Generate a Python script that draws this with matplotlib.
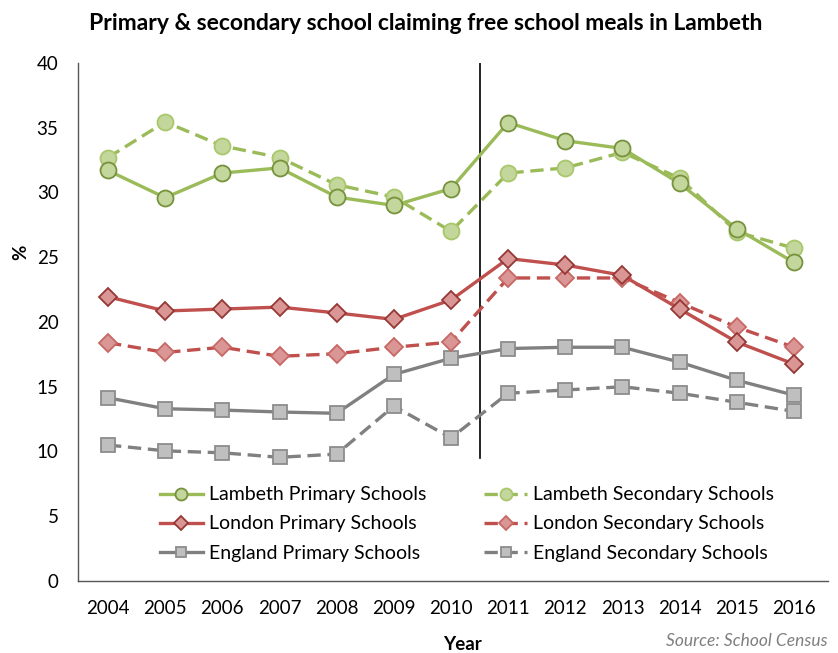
import matplotlib
matplotlib.use("Agg")
import matplotlib.pyplot as plt

plt.rcParams['font.family'] = ['Lato', 'DejaVu Sans']

years = [2004, 2005, 2006, 2007, 2008, 2009, 2010, 2011, 2012, 2013, 2014, 2015, 2016]

lambeth_primary = [31.7, 29.6, 31.5, 31.9, 29.65, 29.0, 30.3, 35.4, 34.0, 33.4, 30.7, 27.2, 24.6]
lambeth_secondary = [32.7, 35.45, 33.6, 32.7, 30.6, 29.65, 27.0, 31.5, 31.9, 33.1, 31.1, 26.95, 25.7]
london_primary = [21.95, 20.85, 21.0, 21.15, 20.7, 20.2, 21.7, 24.9, 24.4, 23.6, 21.0, 18.45, 16.75]
london_secondary = [18.4, 17.65, 18.05, 17.35, 17.55, 18.05, 18.45, 23.4, 23.4, 23.4, 21.5, 19.6, 18.05]
england_primary = [14.15, 13.3, 13.2, 13.05, 12.95, 15.95, 17.2, 17.95, 18.05, 18.05, 16.9, 15.5, 14.35]
england_secondary = [10.5, 10.05, 9.9, 9.55, 9.8, 13.5, 11.05, 14.5, 14.75, 15.0, 14.5, 13.8, 13.1]

policy_break_year = 2010.5
policy_line_bottom = 9.5

series = [
    ("Lambeth Primary Schools", lambeth_primary, '#9BBB59', '#C3D69B', '#76923C', 'o', 11.5, '-'),
    ("Lambeth Secondary Schools", lambeth_secondary, '#9BBB59', '#C3D69B', '#A9C76B', 'o', 11.5, '--'),
    ("London Primary Schools", london_primary, '#C0504D', '#D99694', '#953735', 'D', 9.0, '-'),
    ("London Secondary Schools", london_secondary, '#C0504D', '#D99694', '#C86865', 'D', 9.0, '--'),
    ("England Primary Schools", england_primary, '#808080', '#BFBFBF', '#8C8C8C', 's', 10.5, '-'),
    ("England Secondary Schools", england_secondary, '#808080', '#BFBFBF', '#8C8C8C', 's', 10.5, '--'),
]

fig = plt.figure(figsize=(8.38, 6.53), dpi=100)
ax = fig.add_axes([78 / 838, 1 - 581 / 653, (828 - 78) / 838, (581 - 63) / 653])

handles = {}
for i in [5, 4, 3, 2, 1, 0]:
    name, vals, lc, fc, ec, mk, ms, ls = series[i]
    kw = dict(dashes=(4, 2)) if ls == '--' else {}
    h, = ax.plot(years, vals, color=lc, linewidth=2.4, linestyle=ls, marker=mk,
                 markersize=ms, markerfacecolor=fc, markeredgecolor=ec,
                 markeredgewidth=1.3, label=name, **kw)
    handles[i] = h

ax.plot([policy_break_year, policy_break_year], [policy_line_bottom, 40],
        color='black', linewidth=1.2, zorder=1)

ax.set_xlim(2003.475, 2016.595)
ax.set_ylim(0, 40)
ax.set_yticks(range(0, 41, 5))
ax.set_xticks(years)
ax.set_xticklabels([str(y) for y in years])
ax.tick_params(axis='both', length=0, labelsize=13.5, colors='black')
ax.tick_params(axis='x', pad=14)
ax.tick_params(axis='y', pad=14)
for s in ['top', 'right']:
    ax.spines[s].set_visible(False)
for s in ['left', 'bottom']:
    ax.spines[s].set_color('#555555')
    ax.spines[s].set_linewidth(1.0)

fig.text(462 / 838, 1 - 645 / 653, 'Year', ha='center', va='center',
         fontsize=13.5, fontweight='bold')
fig.text(21 / 838, 1 - 252 / 653, '%', ha='center', va='center', rotation=90,
         fontsize=13.5, fontweight='bold')

leg_h = [handles[i] for i in [0, 2, 4, 1, 3, 5]]
leg_l = [series[i][0] for i in [0, 2, 4, 1, 3, 5]]
leg = ax.legend(leg_h, leg_l, ncol=2, loc='center', frameon=False, fontsize=14,
                markerscale=0.75, handlelength=2.2, handletextpad=0.3,
                columnspacing=3.0, labelspacing=0.62)
leg.set_bbox_to_anchor((467 / 838, 1 - 524 / 653), transform=fig.transFigure)

fig.text(426 / 838, 1 - 24 / 653, 'Primary & secondary school claiming free school meals in Lambeth',
         ha='center', va='center', fontsize=16.5, fontweight='bold')
fig.text(828 / 838, 1 - 641 / 653, 'Source: School Census', ha='right', va='center',
         fontsize=12.5, style='italic', color='#7F7F7F')

fig.savefig('out.png', dpi=100)
